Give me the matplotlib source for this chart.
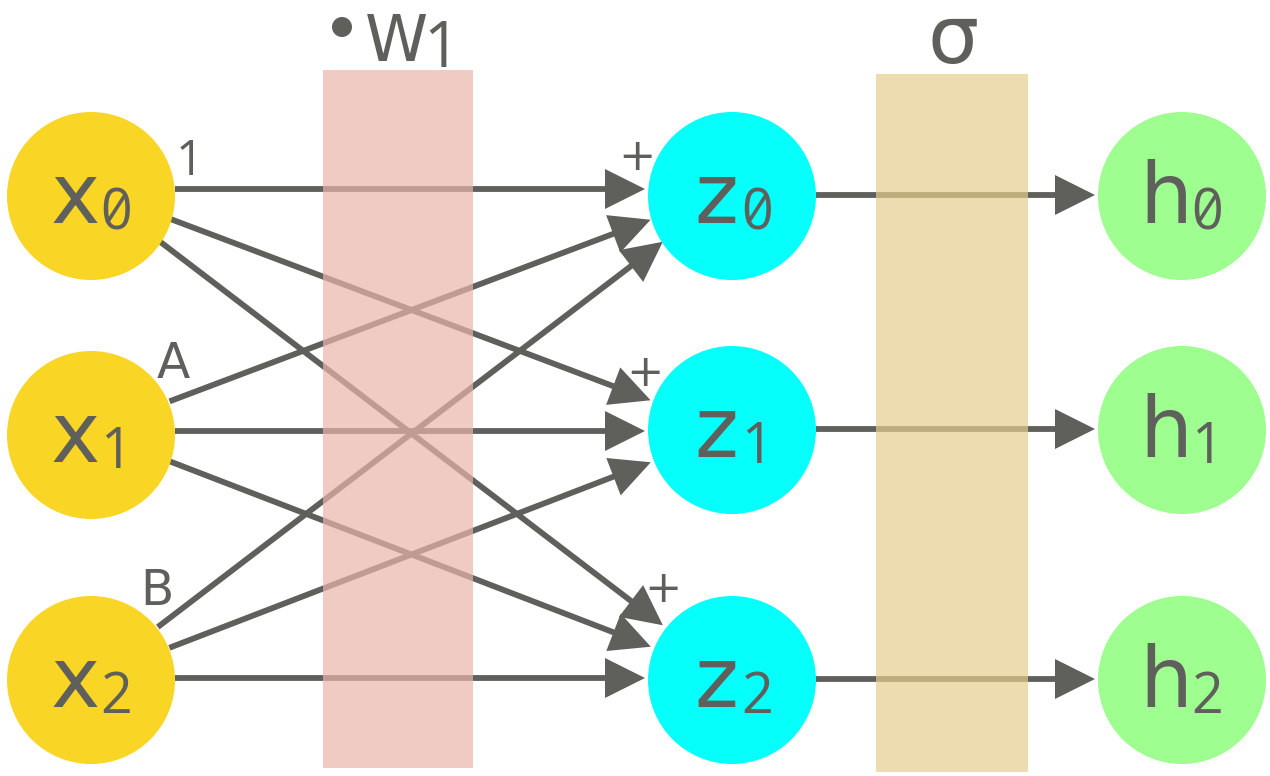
import matplotlib
matplotlib.use("Agg")
import matplotlib.pyplot as plt
from matplotlib.patches import Circle, Rectangle, FancyArrowPatch
import numpy as np

# ---- data ----
input_letters = ["x", "x", "x"]
hidden_letters = ["z", "z", "z"]
output_letters = ["h", "h", "h"]
node_subscripts = ["0", "1", "2"]
weight_labels = ["1", "A", "B"]
sum_labels = ["+", "+", "+"]
weight_title = "W"
weight_title_sub = "1"
activation_title = "σ"

# ---- layout (pixel space) ----
W, H = 1270, 776
R = 84
col_x = {"x": 91, "z": 732, "h": 1182}
row_y_in = [196, 435, 680]
row_y_out = [196, 430, 680]
edge_y = [189, 431, 678]          # where the x->z edges attach per row
GRAY = "#5F605C"
YELLOW = "#F9D525"
CYAN = "#05FFFA"
GREEN = "#9EFF90"
PINK = "#EAB5AC"
TAN = "#E4CE8E"

fig = plt.figure(figsize=(W / 100, H / 100), dpi=100)
ax = fig.add_axes([0, 0, 1, 1])
ax.set_xlim(0, W)
ax.set_ylim(H, 0)
ax.axis("off")

def arrow(p0, p1, z=2):
    a = FancyArrowPatch(p0, p1, arrowstyle="-|>,head_length=22,head_width=11",
                        mutation_scale=1, lw=4.2, color=GRAY, shrinkA=0, shrinkB=0,
                        joinstyle="miter", capstyle="butt", zorder=z)
    ax.add_patch(a)

# edges x -> z
for i in range(3):
    for j in range(3):
        s = np.array([col_x["x"], edge_y[i]], float)
        t = np.array([col_x["z"], edge_y[j]], float)
        d = (t - s) / np.linalg.norm(t - s)
        arrow(tuple(s + d * R), tuple(t - d * (R + 3)))

# edges z -> h
for j in range(3):
    s = (col_x["z"] + R, row_y_out[j] - 1)
    t = (col_x["h"] - R - 3, row_y_out[j] - 1)
    arrow(s, t)

# translucent boxes over the edges
ax.add_patch(Rectangle((323, 70), 150, 698, facecolor=PINK, alpha=0.7, lw=0, zorder=3))
ax.add_patch(Rectangle((876, 74), 152, 698, facecolor=TAN, alpha=0.7, lw=0, zorder=3))

# nodes
def node(cx, cy, color, letter, sub):
    ax.add_patch(Circle((cx, cy), R, facecolor=color, edgecolor="none", zorder=4))
    ax.text(cx - 16, cy + 27, letter, fontsize=60, color=GRAY, ha="center",
            va="baseline", family="DejaVu Sans", zorder=5)
    sx, sy = cx + 25, cy + 33
    ax.text(sx, sy, sub, fontsize=40, color=GRAY, ha="center",
            va="baseline", family="Open Sans", zorder=5)
    if sub == "0":
        # slashed zero, as in the reference
        ax.plot([sx - 9, sx + 9], [sy - 6, sy - 34], color=GRAY, lw=2.6,
                solid_capstyle="butt", zorder=5)

for i in range(3):
    node(col_x["x"], row_y_in[i], YELLOW, input_letters[i], node_subscripts[i])
    node(col_x["z"], row_y_out[i], CYAN, hidden_letters[i], node_subscripts[i])
    node(col_x["h"], row_y_out[i], GREEN, output_letters[i], node_subscripts[i])

# weight labels near inputs
wl_pos = [(189, 175), (173, 378), (157, 605)]
for lab, (px, py) in zip(weight_labels, wl_pos):
    fam = "Open Sans" if lab.isdigit() else "DejaVu Sans"
    ax.text(px, py, lab, fontsize=35, color=GRAY, ha="center", va="baseline",
            family=fam, zorder=5)

# + labels near hidden nodes
plus_pos = [(637, 157), (645, 373), (663, 590)]
for lab, (px, py) in zip(sum_labels, plus_pos):
    ax.text(px, py, lab, fontsize=32, color=GRAY, ha="center", va="center",
            family="DejaVu Sans", zorder=5)

# titles
ax.add_patch(Circle((342, 27), 10, facecolor=GRAY, edgecolor="none", zorder=5))
ax.text(396, 61, weight_title, fontsize=46, color=GRAY, ha="center", va="baseline",
        family="DejaVu Sans", zorder=5)
ax.text(442, 67, weight_title_sub, fontsize=46, color=GRAY, ha="center", va="baseline",
        family="Open Sans", zorder=5)
ax.text(953, 63, activation_title, fontsize=58, color=GRAY, ha="center", va="baseline",
        family="DejaVu Sans", zorder=5)

fig.savefig("out.png", dpi=100, facecolor="white")
